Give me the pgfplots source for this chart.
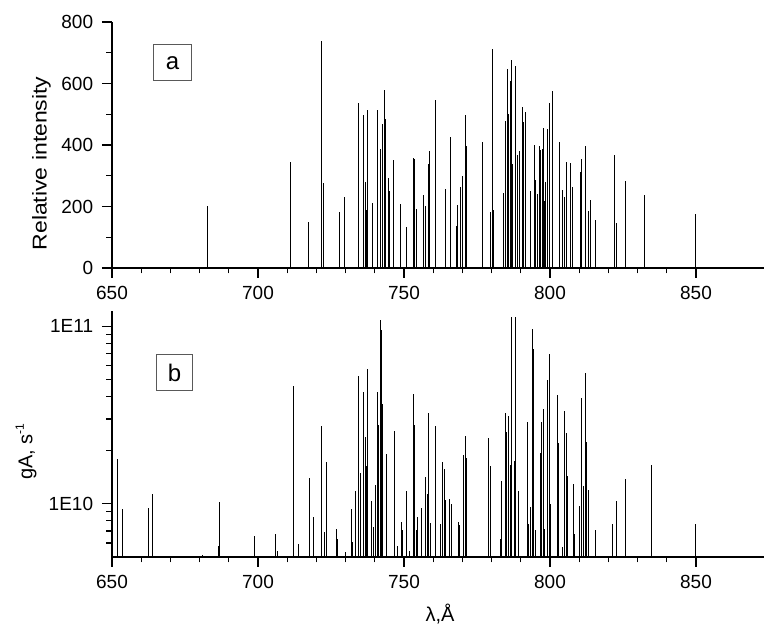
\documentclass[border=0pt]{standalone}
\usepackage{fontspec}
\setmainfont{Liberation Sans}
\newfontfamily\labfont[FakeStretch=1.15]{Liberation Sans}
\usepackage{pgfplots}
\pgfplotsset{compat=1.18}
\usepackage{pgfplotstable}

\pgfplotstableread{
x y
682.7 200
711.1 344
717.3 151
721.8 738
722.3 278
728.0 181
729.7 231
734.4 537
736.25 499
736.7 280
737.3 190
737.6 514
739.1 211
740.8 515
742.0 387
742.5 469
743.3 580
743.6 485
744.7 292
745.0 249
746.5 352
748.75 209
750.9 134
753.3 357
753.5 355
754.3 193
756.6 238
757.3 202
758.3 339
758.75 379
760.7 547
760.9 393
764.2 258
765.9 426
768.05 138
768.4 206
769.2 263
770.1 300
771.0 499
771.5 396
777.0 410
779.5 181
780.3 712
780.8 190
784.1 244
784.8 477
785.5 647
785.8 501
786.4 609
786.7 677
787.2 339
788.3 656
788.75 368
789.5 379
790.7 524
791.0 474
791.6 507
793.2 250
794.8 399
795.1 287
795.7 240
796.5 396
796.8 385
797.3 387
797.7 455
798.2 217
798.6 280
799.0 453
799.7 537
800.9 575
803.1 410
803.4 186
804.2 255
805.0 231
805.6 345
807.0 341
807.8 263
810.5 312
810.9 356
812.2 396
813.3 186
813.75 221
815.7 157
822.0 368
822.8 146
825.8 284
832.5 238
849.8 175
}\topdata

\pgfplotstableread{
x y
651.7 1.78e10
653.6 9.3e9
662.5 9.4e9
663.75 1.13e10
681.0 5.1e9
686.5 5.8e9
686.8 1.02e10
698.9 6.6e9
706.1 6.7e9
706.6 5.4e9
712.0 4.58e10
713.75 5.9e9
717.7 1.40e10
719.1 8.4e9
721.6 2.75e10
722.7 6.9e9
723.5 1.72e10
726.8 7.2e9
727.3 6.3e9
730.0 5.3e9
731.9 9.3e9
732.5 6.1e9
733.3 1.18e10
734.4 5.26e10
735.0 1.48e10
736.25 4.24e10
736.7 2.36e10
737.0 1.62e10
737.6 5.77e10
739.0 1.03e10
739.5 7.4e9
740.1 1.27e10
740.8 4.27e10
741.25 2.78e10
741.8 1.08e11
742.2 9.5e10
742.7 3.64e10
744.0 1.91e10
746.7 2.57e10
747.8 5.8e9
749.2 7.9e9
749.5 7.1e9
751.0 1.18e10
752.0 5.4e9
753.2 4.17e10
753.5 2.77e10
754.1 7.1e9
754.7 8.4e9
756.0 9.4e9
757.5 1.42e10
758.1 1.13e10
758.5 3.24e10
758.9 7.8e9
760.7 1.65e10
760.9 2.75e10
762.4 7.7e9
763.2 1.71e10
764.0 1.57e10
764.3 1.05e10
765.45 1.06e10
766.25 1.0e10
768.6 7.9e9
769.1 7.6e9
770.2 1.88e10
771.0 2.41e10
771.5 1.80e10
778.9 2.34e10
779.5 1.1e10
779.7 1.62e10
783.0 6.3e9
783.4 1.34e10
784.8 3.24e10
785.1 2.55e10
785.8 3.1e10
786.4 1.65e10
786.8 1.13e11
787.7 1.73e10
788.3 1.13e11
789.2 1.18e10
792.2 2.9e10
792.7 7.7e9
793.2 9.6e9
793.9 9.6e10
794.3 7.4e10
794.9 7.1e9
796.6 1.92e10
797.0 2.9e10
797.7 3.43e10
798.2 7.2e9
799.0 5.0e10
799.8 6.98e10
800.2 1.0e10
802.4 4.09e10
803.0 2.19e10
804.3 5.7e9
805.1 3.33e10
805.6 2.5e10
805.9 1.44e10
808.0 1.29e10
808.5 6.7e9
810.2 9.7e9
810.7 3.92e10
811.4 1.25e10
812.0 5.44e10
812.5 2.22e10
813.1 1.19e10
815.7 7.1e9
821.5 7.7e9
822.8 1.04e10
825.8 1.38e10
834.6 1.65e10
849.8 7.7e9
}\botdata

\pgfplotsset{
  spec/.style={
    scale only axis, width=652bp, height=246bp,
    xmin=650, xmax=873.3,
    axis lines*=left, axis line style={-, line width=1.6bp},
    tick align=outside, major tick length=10bp, minor tick length=5.5bp,
    every tick/.style={black, line width=1.2bp},
    xtick={650,700,750,800,850}, minor x tick num=4,
    tick label style={font=\fontsize{19bp}{22bp}\selectfont, inner sep=0pt},
    /pgf/number format/assume math mode=true,
    /pgf/number format/1000 sep={},
    xticklabel style={anchor=north, yshift=-8bp},
    yticklabel style={anchor=east, xshift=-8.7bp},
    clip=true,
  }
}

\begin{document}
\begin{tikzpicture}
\useasboundingbox (0,0) rectangle (764bp,630bp);
\begin{axis}[spec, at={(112bp,362bp)}, anchor=south west,
  ymin=0, ymax=800, ytick={0,200,400,600,800}, minor y tick num=1]
\addplot[ycomb, black, line width=0.9bp, mark=none] table {\topdata};
\end{axis}
\begin{axis}[spec, at={(112bp,73bp)}, anchor=south west,
  ymode=log, ymin=5e9, ymax=1.22e11,
  ytick={1e10,1e11}, yticklabels={1E10,1E11},
  minor ytick={6e9,7e9,8e9,9e9,2e10,3e10,4e10,5e10,6e10,7e10,8e10,9e10}]
\addplot[ycomb, black, line width=0.9bp, mark=none] table {\botdata};
\end{axis}
\node[rotate=90, font=\labfont\fontsize{20bp}{24bp}\selectfont, inner sep=0pt] at (41.5bp,466.6bp) {Relative intensity};
\node[rotate=90, font=\fontsize{20bp}{24bp}\selectfont, inner sep=0pt] at (26bp,178.5bp) {gA, s\raisebox{0.8ex}{\fontsize{12bp}{14bp}\selectfont -1}};
\node[font=\fontsize{20bp}{24bp}\selectfont, inner sep=0pt] at (440bp,16bp) {λ,Å};
\node[draw=black!65, line width=0.9bp, minimum width=38.4bp, minimum height=35.7bp, inner sep=0pt, font=\fontsize{24bp}{28bp}\selectfont] at (172.5bp,567.2bp) {a};
\node[draw=black!65, line width=0.9bp, minimum width=35.6bp, minimum height=35.7bp, inner sep=0pt, font=\fontsize{24bp}{28bp}\selectfont] at (174.5bp,257.2bp) {b};
\end{tikzpicture}
\end{document}
